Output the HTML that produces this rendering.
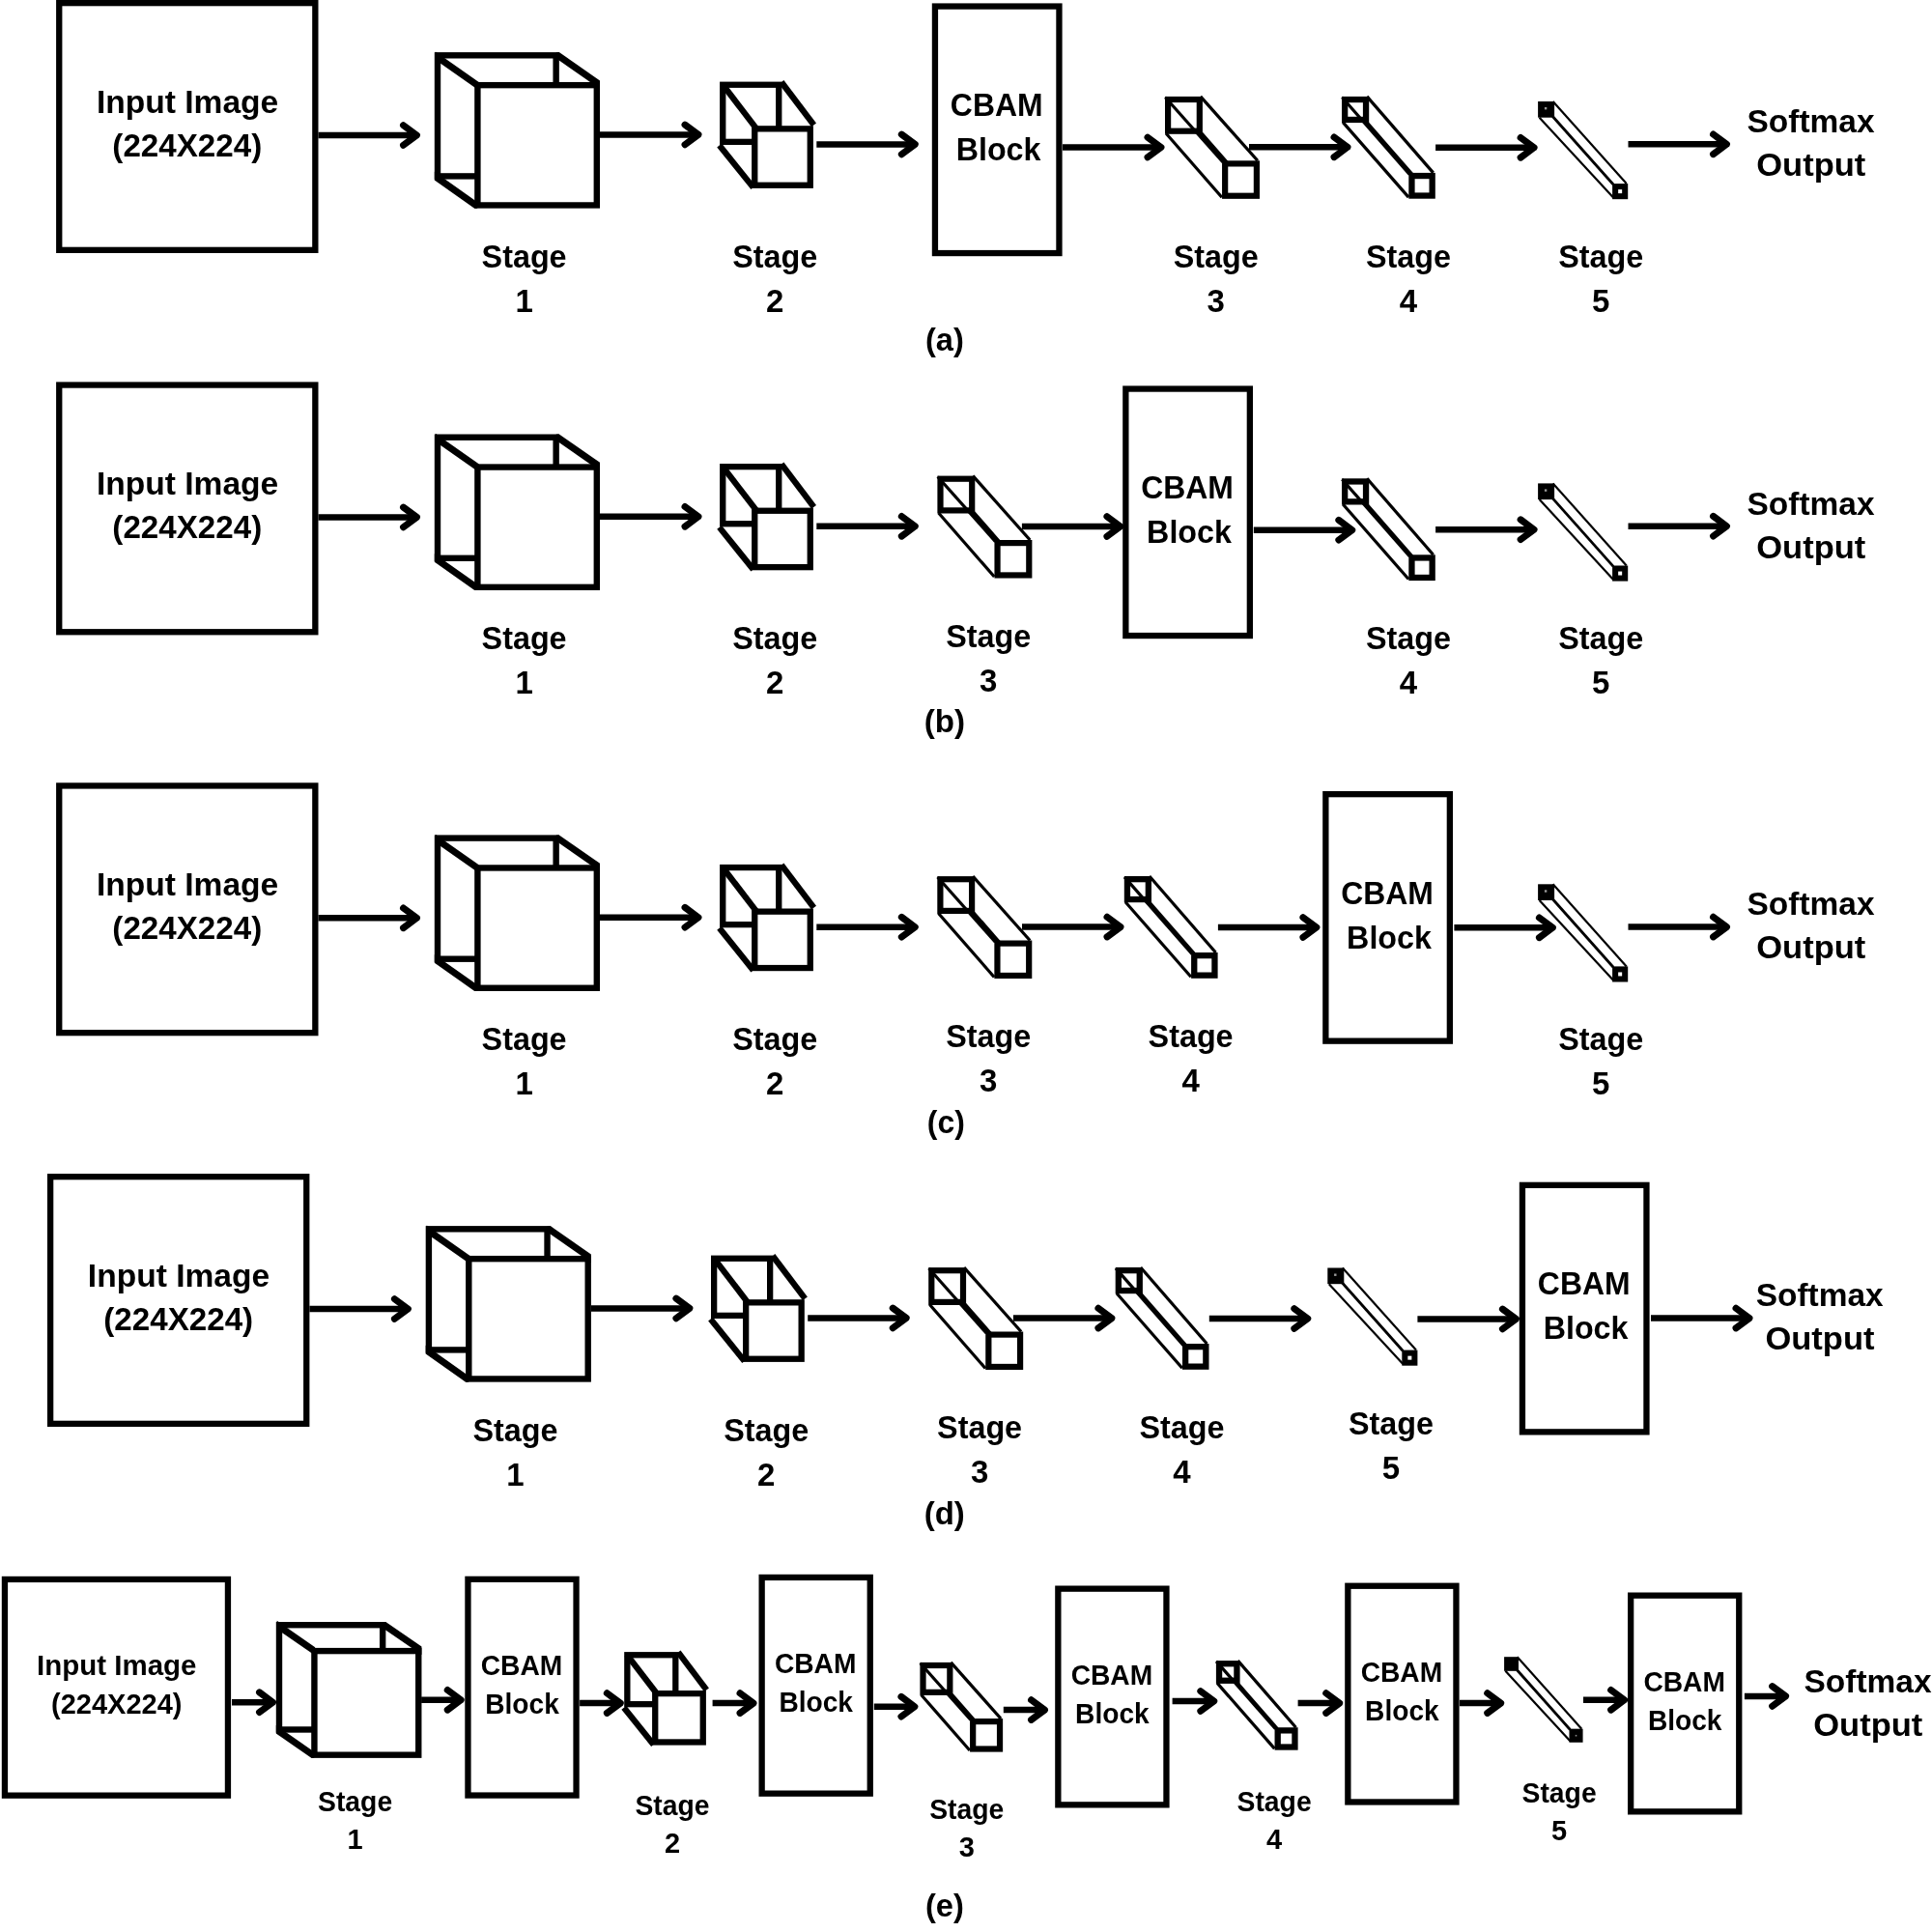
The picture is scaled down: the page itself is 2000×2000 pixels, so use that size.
<!DOCTYPE html>
<html><head><meta charset="utf-8"><title>CBAM placement variants</title>
<style>
html,body{margin:0;padding:0;background:#fff;}
body{width:2000px;height:2000px;overflow:hidden;}
svg{display:block;}
text{font-family:"Liberation Sans",sans-serif;font-weight:bold;fill:#000;}
svg{will-change:transform;}
</style></head><body>
<svg width="2000" height="2000" viewBox="0 0 2000 2000">
<rect x="0" y="0" width="2000" height="2000" fill="#fff"/>
<rect x="61.25" y="3.15" width="265.1" height="255.7" fill="none" stroke="#000" stroke-width="6.3"/>
<text x="99.95" y="116.5" font-size="33" textLength="188.3" lengthAdjust="spacingAndGlyphs">Input Image</text>
<text x="116.35" y="161.8" font-size="33" textLength="154.9" lengthAdjust="spacingAndGlyphs">(224X224)</text>
<path d="M329.5 140 H431.45" fill="none" stroke="#000" stroke-width="6.5"/>
<path d="M417.55 129.7 L431.45 140 L417.55 150.3" fill="none" stroke="#000" stroke-width="7" stroke-linecap="round" stroke-linejoin="round"/>
<rect x="453" y="57.3" width="122.64" height="125.1" fill="none" stroke="#000" stroke-width="6.4"/>
<polygon points="450.8,53.43 495.7,84.88 495.7,93.42 450.8,61.97" fill="#000"/>
<polygon points="575.84,54.1 578.84,54.1 621,83.45 621,91.99 575.84,60.54" fill="#000"/>
<polygon points="449.8,186.4 491.2,215.65 494.2,215.65 494.2,209.21 449.8,177.86" fill="#000"/>
<rect x="494.4" y="88.15" width="123.4" height="124.3" fill="#fff" stroke="#000" stroke-width="6.4"/>
<path d="M621 139.4 H722.95" fill="none" stroke="#000" stroke-width="6.5"/>
<path d="M709.05 129.1 L722.95 139.4 L709.05 149.7" fill="none" stroke="#000" stroke-width="7" stroke-linecap="round" stroke-linejoin="round"/>
<rect x="748.25" y="87.75" width="58" height="59.1" fill="none" stroke="#000" stroke-width="6.3"/>
<line x1="748.2" y1="87.7" x2="783.2" y2="133.3" stroke="#000" stroke-width="6.3" stroke-linecap="butt"/>
<line x1="808.9" y1="85" x2="842.5" y2="129.4" stroke="#000" stroke-width="6.3" stroke-linecap="butt"/>
<line x1="744.7" y1="150.45" x2="779.8" y2="194.15" stroke="#000" stroke-width="6.3" stroke-linecap="butt"/>
<rect x="781.25" y="133.35" width="57.5" height="58.4" fill="#fff" stroke="#000" stroke-width="6.3"/>
<path d="M845.3 149.4 H947.25" fill="none" stroke="#000" stroke-width="6.5"/>
<path d="M933.35 139.1 L947.25 149.4 L933.35 159.7" fill="none" stroke="#000" stroke-width="7" stroke-linecap="round" stroke-linejoin="round"/>
<text x="498.6" y="276.9" font-size="33" textLength="88" lengthAdjust="spacingAndGlyphs">Stage</text>
<text x="542.6" y="322.7" font-size="33" text-anchor="middle">1</text>
<text x="758.3" y="276.9" font-size="33" textLength="88" lengthAdjust="spacingAndGlyphs">Stage</text>
<text x="802.3" y="322.7" font-size="33" text-anchor="middle">2</text>
<rect x="967.95" y="6.55" width="128.5" height="255.5" fill="none" stroke="#000" stroke-width="6.3"/>
<text x="983.85" y="119.9" font-size="33" textLength="95.7" lengthAdjust="spacingAndGlyphs">CBAM</text>
<text x="989.7" y="166.1" font-size="33" textLength="87.8" lengthAdjust="spacingAndGlyphs">Block</text>
<path d="M1100 152.5 H1201.95" fill="none" stroke="#000" stroke-width="6.5"/>
<path d="M1188.05 142.2 L1201.95 152.5 L1188.05 162.8" fill="none" stroke="#000" stroke-width="7" stroke-linecap="round" stroke-linejoin="round"/>
<line x1="1206.3" y1="100.8" x2="1266.05" y2="168" stroke="#000" stroke-width="3.2" stroke-linecap="butt"/>
<line x1="1242.77" y1="99.9" x2="1301.85" y2="166.3" stroke="#000" stroke-width="3.2" stroke-linecap="butt"/>
<line x1="1207.23" y1="138.3" x2="1264.86" y2="204.24" stroke="#000" stroke-width="3.2" stroke-linecap="butt"/>
<line x1="1243.77" y1="137.8" x2="1270.05" y2="167.8" stroke="#000" stroke-width="3.2" stroke-linecap="butt"/>
<line x1="1240.9" y1="136.8" x2="1267.65" y2="167.8" stroke="#000" stroke-width="3.2" stroke-linecap="butt"/>
<rect x="1209.1" y="103" width="32.7" height="32.7" fill="none" stroke="#000" stroke-width="6.2"/>
<rect x="1268.15" y="169.4" width="32.73" height="33.34" fill="#fff" stroke="#000" stroke-width="6.2"/>
<path d="M1293 152.3 H1394.95" fill="none" stroke="#000" stroke-width="6.5"/>
<path d="M1381.05 142 L1394.95 152.3 L1381.05 162.6" fill="none" stroke="#000" stroke-width="7" stroke-linecap="round" stroke-linejoin="round"/>
<line x1="1389.3" y1="100.8" x2="1459.3" y2="180.6" stroke="#000" stroke-width="3.2" stroke-linecap="butt"/>
<line x1="1415.07" y1="99.9" x2="1483.67" y2="178.9" stroke="#000" stroke-width="3.2" stroke-linecap="butt"/>
<line x1="1390.23" y1="126.6" x2="1458.13" y2="204.1" stroke="#000" stroke-width="3.2" stroke-linecap="butt"/>
<line x1="1414.47" y1="126.1" x2="1461.9" y2="180.4" stroke="#000" stroke-width="3.2" stroke-linecap="butt"/>
<rect x="1392.15" y="103.05" width="21.9" height="20.9" fill="none" stroke="#000" stroke-width="6.3"/>
<rect x="1461.45" y="182.05" width="21.2" height="20.5" fill="#fff" stroke="#000" stroke-width="6.3"/>
<path d="M1486.1 152.8 H1588.05" fill="none" stroke="#000" stroke-width="6.5"/>
<path d="M1574.15 142.5 L1588.05 152.8 L1574.15 163.1" fill="none" stroke="#000" stroke-width="7" stroke-linecap="round" stroke-linejoin="round"/>
<line x1="1607.6" y1="105" x2="1683.7" y2="190.1" stroke="#000" stroke-width="2.2" stroke-linecap="butt"/>
<line x1="1593.6" y1="121.7" x2="1670.1" y2="204.5" stroke="#000" stroke-width="2.2" stroke-linecap="butt"/>
<line x1="1607.3" y1="120.5" x2="1670.1" y2="191" stroke="#000" stroke-width="2.8" stroke-linecap="butt"/>
<rect x="1592.1" y="105" width="17" height="16.7" fill="#000"/>
<rect x="1598.9" y="111" width="2.4" height="2.4" fill="#999"/>
<rect x="1669.1" y="190.1" width="16.1" height="16.1" fill="#000"/>
<rect x="1675.15" y="196.15" width="4" height="4" fill="#fff"/>
<path d="M1685.5 149.3 H1787.45" fill="none" stroke="#000" stroke-width="6.5"/>
<path d="M1773.55 139 L1787.45 149.3 L1773.55 159.6" fill="none" stroke="#000" stroke-width="7" stroke-linecap="round" stroke-linejoin="round"/>
<text x="1808.5" y="137.1" font-size="33" textLength="132" lengthAdjust="spacingAndGlyphs">Softmax</text>
<text x="1818.25" y="182.1" font-size="33" textLength="113.1" lengthAdjust="spacingAndGlyphs">Output</text>
<text x="1214.7" y="276.9" font-size="33" textLength="88" lengthAdjust="spacingAndGlyphs">Stage</text>
<text x="1258.7" y="322.7" font-size="33" text-anchor="middle">3</text>
<text x="1414" y="276.9" font-size="33" textLength="88" lengthAdjust="spacingAndGlyphs">Stage</text>
<text x="1458" y="322.7" font-size="33" text-anchor="middle">4</text>
<text x="1613.3" y="276.9" font-size="33" textLength="88" lengthAdjust="spacingAndGlyphs">Stage</text>
<text x="1657.3" y="322.7" font-size="33" text-anchor="middle">5</text>
<text x="957.95" y="363.3" font-size="33" textLength="39.9" lengthAdjust="spacingAndGlyphs">(a)</text>
<rect x="61.25" y="398.55" width="265.1" height="255.7" fill="none" stroke="#000" stroke-width="6.3"/>
<text x="99.95" y="511.9" font-size="33" textLength="188.3" lengthAdjust="spacingAndGlyphs">Input Image</text>
<text x="116.35" y="557.2" font-size="33" textLength="154.9" lengthAdjust="spacingAndGlyphs">(224X224)</text>
<path d="M329.5 535.4 H431.45" fill="none" stroke="#000" stroke-width="6.5"/>
<path d="M417.55 525.1 L431.45 535.4 L417.55 545.7" fill="none" stroke="#000" stroke-width="7" stroke-linecap="round" stroke-linejoin="round"/>
<rect x="453" y="452.7" width="122.64" height="125.1" fill="none" stroke="#000" stroke-width="6.4"/>
<polygon points="450.8,448.83 495.7,480.28 495.7,488.82 450.8,457.37" fill="#000"/>
<polygon points="575.84,449.5 578.84,449.5 621,478.85 621,487.39 575.84,455.94" fill="#000"/>
<polygon points="449.8,581.8 491.2,611.05 494.2,611.05 494.2,604.61 449.8,573.26" fill="#000"/>
<rect x="494.4" y="483.55" width="123.4" height="124.3" fill="#fff" stroke="#000" stroke-width="6.4"/>
<path d="M621 534.8 H722.95" fill="none" stroke="#000" stroke-width="6.5"/>
<path d="M709.05 524.5 L722.95 534.8 L709.05 545.1" fill="none" stroke="#000" stroke-width="7" stroke-linecap="round" stroke-linejoin="round"/>
<rect x="748.25" y="483.15" width="58" height="59.1" fill="none" stroke="#000" stroke-width="6.3"/>
<line x1="748.2" y1="483.1" x2="783.2" y2="528.7" stroke="#000" stroke-width="6.3" stroke-linecap="butt"/>
<line x1="808.9" y1="480.4" x2="842.5" y2="524.8" stroke="#000" stroke-width="6.3" stroke-linecap="butt"/>
<line x1="744.7" y1="545.85" x2="779.8" y2="589.55" stroke="#000" stroke-width="6.3" stroke-linecap="butt"/>
<rect x="781.25" y="528.75" width="57.5" height="58.4" fill="#fff" stroke="#000" stroke-width="6.3"/>
<path d="M845.3 544.8 H947.25" fill="none" stroke="#000" stroke-width="6.5"/>
<path d="M933.35 534.5 L947.25 544.8 L933.35 555.1" fill="none" stroke="#000" stroke-width="7" stroke-linecap="round" stroke-linejoin="round"/>
<text x="498.6" y="672.3" font-size="33" textLength="88" lengthAdjust="spacingAndGlyphs">Stage</text>
<text x="542.6" y="718.1" font-size="33" text-anchor="middle">1</text>
<text x="758.3" y="672.3" font-size="33" textLength="88" lengthAdjust="spacingAndGlyphs">Stage</text>
<text x="802.3" y="718.1" font-size="33" text-anchor="middle">2</text>
<line x1="970.7" y1="493.5" x2="1030.45" y2="560.7" stroke="#000" stroke-width="3.2" stroke-linecap="butt"/>
<line x1="1007.17" y1="492.6" x2="1066.25" y2="559" stroke="#000" stroke-width="3.2" stroke-linecap="butt"/>
<line x1="971.63" y1="531" x2="1029.26" y2="596.94" stroke="#000" stroke-width="3.2" stroke-linecap="butt"/>
<line x1="1008.17" y1="530.5" x2="1034.45" y2="560.5" stroke="#000" stroke-width="3.2" stroke-linecap="butt"/>
<line x1="1005.3" y1="529.5" x2="1032.05" y2="560.5" stroke="#000" stroke-width="3.2" stroke-linecap="butt"/>
<rect x="973.5" y="495.7" width="32.7" height="32.7" fill="none" stroke="#000" stroke-width="6.2"/>
<rect x="1032.55" y="562.1" width="32.73" height="33.34" fill="#fff" stroke="#000" stroke-width="6.2"/>
<path d="M1057.9 545 H1159.85" fill="none" stroke="#000" stroke-width="6.5"/>
<path d="M1145.95 534.7 L1159.85 545 L1145.95 555.3" fill="none" stroke="#000" stroke-width="7" stroke-linecap="round" stroke-linejoin="round"/>
<rect x="1165.35" y="402.55" width="128.5" height="255.5" fill="none" stroke="#000" stroke-width="6.3"/>
<text x="1181.25" y="515.9" font-size="33" textLength="95.7" lengthAdjust="spacingAndGlyphs">CBAM</text>
<text x="1187.1" y="562.1" font-size="33" textLength="87.8" lengthAdjust="spacingAndGlyphs">Block</text>
<path d="M1297.8 548.7 H1399.75" fill="none" stroke="#000" stroke-width="6.5"/>
<path d="M1385.85 538.4 L1399.75 548.7 L1385.85 559" fill="none" stroke="#000" stroke-width="7" stroke-linecap="round" stroke-linejoin="round"/>
<line x1="1389.3" y1="496.2" x2="1459.3" y2="576" stroke="#000" stroke-width="3.2" stroke-linecap="butt"/>
<line x1="1415.07" y1="495.3" x2="1483.67" y2="574.3" stroke="#000" stroke-width="3.2" stroke-linecap="butt"/>
<line x1="1390.23" y1="522" x2="1458.13" y2="599.5" stroke="#000" stroke-width="3.2" stroke-linecap="butt"/>
<line x1="1414.47" y1="521.5" x2="1461.9" y2="575.8" stroke="#000" stroke-width="3.2" stroke-linecap="butt"/>
<rect x="1392.15" y="498.45" width="21.9" height="20.9" fill="none" stroke="#000" stroke-width="6.3"/>
<rect x="1461.45" y="577.45" width="21.2" height="20.5" fill="#fff" stroke="#000" stroke-width="6.3"/>
<path d="M1486.1 548.2 H1588.05" fill="none" stroke="#000" stroke-width="6.5"/>
<path d="M1574.15 537.9 L1588.05 548.2 L1574.15 558.5" fill="none" stroke="#000" stroke-width="7" stroke-linecap="round" stroke-linejoin="round"/>
<line x1="1607.6" y1="500.4" x2="1683.7" y2="585.5" stroke="#000" stroke-width="2.2" stroke-linecap="butt"/>
<line x1="1593.6" y1="517.1" x2="1670.1" y2="599.9" stroke="#000" stroke-width="2.2" stroke-linecap="butt"/>
<line x1="1607.3" y1="515.9" x2="1670.1" y2="586.4" stroke="#000" stroke-width="2.8" stroke-linecap="butt"/>
<rect x="1592.1" y="500.4" width="17" height="16.7" fill="#000"/>
<rect x="1598.9" y="506.4" width="2.4" height="2.4" fill="#999"/>
<rect x="1669.1" y="585.5" width="16.1" height="16.1" fill="#000"/>
<rect x="1675.15" y="591.55" width="4" height="4" fill="#fff"/>
<path d="M1685.5 544.7 H1787.45" fill="none" stroke="#000" stroke-width="6.5"/>
<path d="M1773.55 534.4 L1787.45 544.7 L1773.55 555" fill="none" stroke="#000" stroke-width="7" stroke-linecap="round" stroke-linejoin="round"/>
<text x="1808.5" y="532.5" font-size="33" textLength="132" lengthAdjust="spacingAndGlyphs">Softmax</text>
<text x="1818.25" y="577.5" font-size="33" textLength="113.1" lengthAdjust="spacingAndGlyphs">Output</text>
<text x="979.3" y="669.9" font-size="33" textLength="88" lengthAdjust="spacingAndGlyphs">Stage</text>
<text x="1023.3" y="715.7" font-size="33" text-anchor="middle">3</text>
<text x="1414" y="672.3" font-size="33" textLength="88" lengthAdjust="spacingAndGlyphs">Stage</text>
<text x="1458" y="718.1" font-size="33" text-anchor="middle">4</text>
<text x="1613.3" y="672.3" font-size="33" textLength="88" lengthAdjust="spacingAndGlyphs">Stage</text>
<text x="1657.3" y="718.1" font-size="33" text-anchor="middle">5</text>
<text x="956.7" y="758.3" font-size="33" textLength="42.4" lengthAdjust="spacingAndGlyphs">(b)</text>
<rect x="61.25" y="813.45" width="265.1" height="255.7" fill="none" stroke="#000" stroke-width="6.3"/>
<text x="99.95" y="926.8" font-size="33" textLength="188.3" lengthAdjust="spacingAndGlyphs">Input Image</text>
<text x="116.35" y="972.1" font-size="33" textLength="154.9" lengthAdjust="spacingAndGlyphs">(224X224)</text>
<path d="M329.5 950.3 H431.45" fill="none" stroke="#000" stroke-width="6.5"/>
<path d="M417.55 940 L431.45 950.3 L417.55 960.6" fill="none" stroke="#000" stroke-width="7" stroke-linecap="round" stroke-linejoin="round"/>
<rect x="453" y="867.6" width="122.64" height="125.1" fill="none" stroke="#000" stroke-width="6.4"/>
<polygon points="450.8,863.73 495.7,895.18 495.7,903.72 450.8,872.27" fill="#000"/>
<polygon points="575.84,864.4 578.84,864.4 621,893.75 621,902.29 575.84,870.84" fill="#000"/>
<polygon points="449.8,996.7 491.2,1025.95 494.2,1025.95 494.2,1019.51 449.8,988.16" fill="#000"/>
<rect x="494.4" y="898.45" width="123.4" height="124.3" fill="#fff" stroke="#000" stroke-width="6.4"/>
<path d="M621 949.7 H722.95" fill="none" stroke="#000" stroke-width="6.5"/>
<path d="M709.05 939.4 L722.95 949.7 L709.05 960" fill="none" stroke="#000" stroke-width="7" stroke-linecap="round" stroke-linejoin="round"/>
<rect x="748.25" y="898.05" width="58" height="59.1" fill="none" stroke="#000" stroke-width="6.3"/>
<line x1="748.2" y1="898" x2="783.2" y2="943.6" stroke="#000" stroke-width="6.3" stroke-linecap="butt"/>
<line x1="808.9" y1="895.3" x2="842.5" y2="939.7" stroke="#000" stroke-width="6.3" stroke-linecap="butt"/>
<line x1="744.7" y1="960.75" x2="779.8" y2="1004.45" stroke="#000" stroke-width="6.3" stroke-linecap="butt"/>
<rect x="781.25" y="943.65" width="57.5" height="58.4" fill="#fff" stroke="#000" stroke-width="6.3"/>
<path d="M845.3 959.7 H947.25" fill="none" stroke="#000" stroke-width="6.5"/>
<path d="M933.35 949.4 L947.25 959.7 L933.35 970" fill="none" stroke="#000" stroke-width="7" stroke-linecap="round" stroke-linejoin="round"/>
<text x="498.6" y="1087.2" font-size="33" textLength="88" lengthAdjust="spacingAndGlyphs">Stage</text>
<text x="542.6" y="1133" font-size="33" text-anchor="middle">1</text>
<text x="758.3" y="1087.2" font-size="33" textLength="88" lengthAdjust="spacingAndGlyphs">Stage</text>
<text x="802.3" y="1133" font-size="33" text-anchor="middle">2</text>
<line x1="970.6" y1="908" x2="1030.35" y2="975.2" stroke="#000" stroke-width="3.2" stroke-linecap="butt"/>
<line x1="1007.07" y1="907.1" x2="1066.15" y2="973.5" stroke="#000" stroke-width="3.2" stroke-linecap="butt"/>
<line x1="971.53" y1="945.5" x2="1029.16" y2="1011.44" stroke="#000" stroke-width="3.2" stroke-linecap="butt"/>
<line x1="1008.07" y1="945" x2="1034.35" y2="975" stroke="#000" stroke-width="3.2" stroke-linecap="butt"/>
<line x1="1005.2" y1="944" x2="1031.95" y2="975" stroke="#000" stroke-width="3.2" stroke-linecap="butt"/>
<rect x="973.4" y="910.2" width="32.7" height="32.7" fill="none" stroke="#000" stroke-width="6.2"/>
<rect x="1032.45" y="976.6" width="32.73" height="33.34" fill="#fff" stroke="#000" stroke-width="6.2"/>
<path d="M1058 959.6 H1159.95" fill="none" stroke="#000" stroke-width="6.5"/>
<path d="M1146.05 949.3 L1159.95 959.6 L1146.05 969.9" fill="none" stroke="#000" stroke-width="7" stroke-linecap="round" stroke-linejoin="round"/>
<line x1="1164.1" y1="907.9" x2="1234.1" y2="987.7" stroke="#000" stroke-width="3.2" stroke-linecap="butt"/>
<line x1="1189.87" y1="907" x2="1258.47" y2="986" stroke="#000" stroke-width="3.2" stroke-linecap="butt"/>
<line x1="1165.03" y1="933.7" x2="1232.93" y2="1011.2" stroke="#000" stroke-width="3.2" stroke-linecap="butt"/>
<line x1="1189.27" y1="933.2" x2="1236.7" y2="987.5" stroke="#000" stroke-width="3.2" stroke-linecap="butt"/>
<rect x="1166.95" y="910.15" width="21.9" height="20.9" fill="none" stroke="#000" stroke-width="6.3"/>
<rect x="1236.25" y="989.15" width="21.2" height="20.5" fill="#fff" stroke="#000" stroke-width="6.3"/>
<path d="M1260.9 960 H1362.85" fill="none" stroke="#000" stroke-width="6.5"/>
<path d="M1348.95 949.7 L1362.85 960 L1348.95 970.3" fill="none" stroke="#000" stroke-width="7" stroke-linecap="round" stroke-linejoin="round"/>
<rect x="1372.35" y="822.15" width="128.5" height="255.5" fill="none" stroke="#000" stroke-width="6.3"/>
<text x="1388.25" y="935.5" font-size="33" textLength="95.7" lengthAdjust="spacingAndGlyphs">CBAM</text>
<text x="1394.1" y="981.7" font-size="33" textLength="87.8" lengthAdjust="spacingAndGlyphs">Block</text>
<path d="M1505.4 960.3 H1607.35" fill="none" stroke="#000" stroke-width="6.5"/>
<path d="M1593.45 950 L1607.35 960.3 L1593.45 970.6" fill="none" stroke="#000" stroke-width="7" stroke-linecap="round" stroke-linejoin="round"/>
<line x1="1607.6" y1="915.3" x2="1683.7" y2="1000.4" stroke="#000" stroke-width="2.2" stroke-linecap="butt"/>
<line x1="1593.6" y1="932" x2="1670.1" y2="1014.8" stroke="#000" stroke-width="2.2" stroke-linecap="butt"/>
<line x1="1607.3" y1="930.8" x2="1670.1" y2="1001.3" stroke="#000" stroke-width="2.8" stroke-linecap="butt"/>
<rect x="1592.1" y="915.3" width="17" height="16.7" fill="#000"/>
<rect x="1598.9" y="921.3" width="2.4" height="2.4" fill="#999"/>
<rect x="1669.1" y="1000.4" width="16.1" height="16.1" fill="#000"/>
<rect x="1675.15" y="1006.45" width="4" height="4" fill="#fff"/>
<path d="M1685.5 959.6 H1787.45" fill="none" stroke="#000" stroke-width="6.5"/>
<path d="M1773.55 949.3 L1787.45 959.6 L1773.55 969.9" fill="none" stroke="#000" stroke-width="7" stroke-linecap="round" stroke-linejoin="round"/>
<text x="1808.5" y="947.4" font-size="33" textLength="132" lengthAdjust="spacingAndGlyphs">Softmax</text>
<text x="1818.25" y="992.4" font-size="33" textLength="113.1" lengthAdjust="spacingAndGlyphs">Output</text>
<text x="979.2" y="1084.4" font-size="33" textLength="88" lengthAdjust="spacingAndGlyphs">Stage</text>
<text x="1023.2" y="1130.2" font-size="33" text-anchor="middle">3</text>
<text x="1188.6" y="1084.4" font-size="33" textLength="88" lengthAdjust="spacingAndGlyphs">Stage</text>
<text x="1232.6" y="1130.2" font-size="33" text-anchor="middle">4</text>
<text x="1613.3" y="1087.2" font-size="33" textLength="88" lengthAdjust="spacingAndGlyphs">Stage</text>
<text x="1657.3" y="1133" font-size="33" text-anchor="middle">5</text>
<text x="959.8" y="1173.3" font-size="33" textLength="39" lengthAdjust="spacingAndGlyphs">(c)</text>
<rect x="52.15" y="1218.15" width="265.1" height="255.7" fill="none" stroke="#000" stroke-width="6.3"/>
<text x="90.85" y="1331.5" font-size="33" textLength="188.3" lengthAdjust="spacingAndGlyphs">Input Image</text>
<text x="107.25" y="1376.8" font-size="33" textLength="154.9" lengthAdjust="spacingAndGlyphs">(224X224)</text>
<path d="M320.4 1355 H422.35" fill="none" stroke="#000" stroke-width="6.5"/>
<path d="M408.45 1344.7 L422.35 1355 L408.45 1365.3" fill="none" stroke="#000" stroke-width="7" stroke-linecap="round" stroke-linejoin="round"/>
<rect x="443.9" y="1272.3" width="122.64" height="125.1" fill="none" stroke="#000" stroke-width="6.4"/>
<polygon points="441.7,1268.43 486.6,1299.88 486.6,1308.42 441.7,1276.97" fill="#000"/>
<polygon points="566.74,1269.1 569.74,1269.1 611.9,1298.45 611.9,1306.99 566.74,1275.54" fill="#000"/>
<polygon points="440.7,1401.4 482.1,1430.65 485.1,1430.65 485.1,1424.21 440.7,1392.86" fill="#000"/>
<rect x="485.3" y="1303.15" width="123.4" height="124.3" fill="#fff" stroke="#000" stroke-width="6.4"/>
<path d="M611.9 1354.4 H713.85" fill="none" stroke="#000" stroke-width="6.5"/>
<path d="M699.95 1344.1 L713.85 1354.4 L699.95 1364.7" fill="none" stroke="#000" stroke-width="7" stroke-linecap="round" stroke-linejoin="round"/>
<rect x="739.15" y="1302.75" width="58" height="59.1" fill="none" stroke="#000" stroke-width="6.3"/>
<line x1="739.1" y1="1302.7" x2="774.1" y2="1348.3" stroke="#000" stroke-width="6.3" stroke-linecap="butt"/>
<line x1="799.8" y1="1300" x2="833.4" y2="1344.4" stroke="#000" stroke-width="6.3" stroke-linecap="butt"/>
<line x1="735.6" y1="1365.45" x2="770.7" y2="1409.15" stroke="#000" stroke-width="6.3" stroke-linecap="butt"/>
<rect x="772.15" y="1348.35" width="57.5" height="58.4" fill="#fff" stroke="#000" stroke-width="6.3"/>
<path d="M836.2 1364.4 H938.15" fill="none" stroke="#000" stroke-width="6.5"/>
<path d="M924.25 1354.1 L938.15 1364.4 L924.25 1374.7" fill="none" stroke="#000" stroke-width="7" stroke-linecap="round" stroke-linejoin="round"/>
<text x="489.5" y="1491.9" font-size="33" textLength="88" lengthAdjust="spacingAndGlyphs">Stage</text>
<text x="533.5" y="1537.7" font-size="33" text-anchor="middle">1</text>
<text x="749.2" y="1491.9" font-size="33" textLength="88" lengthAdjust="spacingAndGlyphs">Stage</text>
<text x="793.2" y="1537.7" font-size="33" text-anchor="middle">2</text>
<line x1="961.5" y1="1313" x2="1021.25" y2="1380.2" stroke="#000" stroke-width="3.2" stroke-linecap="butt"/>
<line x1="997.97" y1="1312.1" x2="1057.05" y2="1378.5" stroke="#000" stroke-width="3.2" stroke-linecap="butt"/>
<line x1="962.43" y1="1350.5" x2="1020.06" y2="1416.44" stroke="#000" stroke-width="3.2" stroke-linecap="butt"/>
<line x1="998.97" y1="1350" x2="1025.25" y2="1380" stroke="#000" stroke-width="3.2" stroke-linecap="butt"/>
<line x1="996.1" y1="1349" x2="1022.85" y2="1380" stroke="#000" stroke-width="3.2" stroke-linecap="butt"/>
<rect x="964.3" y="1315.2" width="32.7" height="32.7" fill="none" stroke="#000" stroke-width="6.2"/>
<rect x="1023.35" y="1381.6" width="32.73" height="33.34" fill="#fff" stroke="#000" stroke-width="6.2"/>
<path d="M1048.9 1364.6 H1150.85" fill="none" stroke="#000" stroke-width="6.5"/>
<path d="M1136.95 1354.3 L1150.85 1364.6 L1136.95 1374.9" fill="none" stroke="#000" stroke-width="7" stroke-linecap="round" stroke-linejoin="round"/>
<line x1="1155" y1="1312.9" x2="1225" y2="1392.7" stroke="#000" stroke-width="3.2" stroke-linecap="butt"/>
<line x1="1180.77" y1="1312" x2="1249.37" y2="1391" stroke="#000" stroke-width="3.2" stroke-linecap="butt"/>
<line x1="1155.93" y1="1338.7" x2="1223.83" y2="1416.2" stroke="#000" stroke-width="3.2" stroke-linecap="butt"/>
<line x1="1180.17" y1="1338.2" x2="1227.6" y2="1392.5" stroke="#000" stroke-width="3.2" stroke-linecap="butt"/>
<rect x="1157.85" y="1315.15" width="21.9" height="20.9" fill="none" stroke="#000" stroke-width="6.3"/>
<rect x="1227.15" y="1394.15" width="21.2" height="20.5" fill="#fff" stroke="#000" stroke-width="6.3"/>
<path d="M1251.8 1365 H1353.75" fill="none" stroke="#000" stroke-width="6.5"/>
<path d="M1339.85 1354.7 L1353.75 1365 L1339.85 1375.3" fill="none" stroke="#000" stroke-width="7" stroke-linecap="round" stroke-linejoin="round"/>
<line x1="1389.8" y1="1312.5" x2="1465.9" y2="1397.6" stroke="#000" stroke-width="2.2" stroke-linecap="butt"/>
<line x1="1375.8" y1="1329.2" x2="1452.3" y2="1412" stroke="#000" stroke-width="2.2" stroke-linecap="butt"/>
<line x1="1389.5" y1="1328" x2="1452.3" y2="1398.5" stroke="#000" stroke-width="2.8" stroke-linecap="butt"/>
<rect x="1374.3" y="1312.5" width="17" height="16.7" fill="#000"/>
<rect x="1381.1" y="1318.5" width="2.4" height="2.4" fill="#999"/>
<rect x="1451.3" y="1397.6" width="16.1" height="16.1" fill="#000"/>
<rect x="1457.35" y="1403.65" width="4" height="4" fill="#fff"/>
<path d="M1467.4 1365.4 H1569.35" fill="none" stroke="#000" stroke-width="6.5"/>
<path d="M1555.45 1355.1 L1569.35 1365.4 L1555.45 1375.7" fill="none" stroke="#000" stroke-width="7" stroke-linecap="round" stroke-linejoin="round"/>
<rect x="1575.95" y="1226.85" width="128.5" height="255.5" fill="none" stroke="#000" stroke-width="6.3"/>
<text x="1591.85" y="1340.2" font-size="33" textLength="95.7" lengthAdjust="spacingAndGlyphs">CBAM</text>
<text x="1597.7" y="1386.4" font-size="33" textLength="87.8" lengthAdjust="spacingAndGlyphs">Block</text>
<path d="M1709 1364.6 H1810.95" fill="none" stroke="#000" stroke-width="6.5"/>
<path d="M1797.05 1354.3 L1810.95 1364.6 L1797.05 1374.9" fill="none" stroke="#000" stroke-width="7" stroke-linecap="round" stroke-linejoin="round"/>
<text x="1817.65" y="1352.1" font-size="33" textLength="132" lengthAdjust="spacingAndGlyphs">Softmax</text>
<text x="1827.4" y="1397.1" font-size="33" textLength="113.1" lengthAdjust="spacingAndGlyphs">Output</text>
<text x="970.1" y="1489.4" font-size="33" textLength="88" lengthAdjust="spacingAndGlyphs">Stage</text>
<text x="1014.1" y="1535.2" font-size="33" text-anchor="middle">3</text>
<text x="1179.5" y="1489.4" font-size="33" textLength="88" lengthAdjust="spacingAndGlyphs">Stage</text>
<text x="1223.5" y="1535.2" font-size="33" text-anchor="middle">4</text>
<text x="1395.9" y="1484.7" font-size="33" textLength="88" lengthAdjust="spacingAndGlyphs">Stage</text>
<text x="1439.9" y="1530.5" font-size="33" text-anchor="middle">5</text>
<text x="956.7" y="1578.3" font-size="33" textLength="42.1" lengthAdjust="spacingAndGlyphs">(d)</text>
<rect x="4.95" y="1634.95" width="231" height="223.7" fill="none" stroke="#000" stroke-width="6.3"/>
<text x="38.07" y="1734.1" font-size="29" textLength="165.36" lengthAdjust="spacingAndGlyphs">Input Image</text>
<text x="53.01" y="1773.7" font-size="29" textLength="135.48" lengthAdjust="spacingAndGlyphs">(224X224)</text>
<path d="M240 1762.2 H282.45" fill="none" stroke="#000" stroke-width="6.5"/>
<path d="M268.55 1751.9 L282.45 1762.2 L268.55 1772.5" fill="none" stroke="#000" stroke-width="7" stroke-linecap="round" stroke-linejoin="round"/>
<rect x="289" y="1682.2" width="107.16" height="108.27" fill="none" stroke="#000" stroke-width="6.4"/>
<polygon points="286.68,1677.87 326.19,1705.3 326.19,1713.83 286.68,1686.41" fill="#000"/>
<polygon points="396.36,1679 399.36,1679 436.46,1704.41 436.46,1712.94 396.36,1685.44" fill="#000"/>
<polygon points="285.8,1794.47 322.23,1819.87 325.23,1819.87 325.23,1813.44 285.8,1785.93" fill="#000"/>
<rect x="325.43" y="1709.1" width="107.82" height="107.57" fill="#fff" stroke="#000" stroke-width="6.4"/>
<path d="M436.1 1759.8 H477.15" fill="none" stroke="#000" stroke-width="6.5"/>
<path d="M463.25 1749.5 L477.15 1759.8 L463.25 1770.1" fill="none" stroke="#000" stroke-width="7" stroke-linecap="round" stroke-linejoin="round"/>
<rect x="484.45" y="1634.85" width="112.1" height="223.7" fill="none" stroke="#000" stroke-width="6.3"/>
<text x="497.75" y="1733.9" font-size="29" textLength="84.5" lengthAdjust="spacingAndGlyphs">CBAM</text>
<text x="502.2" y="1773.9" font-size="29" textLength="76.59" lengthAdjust="spacingAndGlyphs">Block</text>
<path d="M600.1 1763.1 H642.25" fill="none" stroke="#000" stroke-width="6.5"/>
<path d="M628.35 1752.8 L642.25 1763.1 L628.35 1773.4" fill="none" stroke="#000" stroke-width="7" stroke-linecap="round" stroke-linejoin="round"/>
<rect x="649.35" y="1713.25" width="49.96" height="50.92" fill="none" stroke="#000" stroke-width="6.3"/>
<line x1="648.91" y1="1712.81" x2="679.54" y2="1752.71" stroke="#000" stroke-width="6.3" stroke-linecap="butt"/>
<line x1="702.03" y1="1710.45" x2="731.43" y2="1749.3" stroke="#000" stroke-width="6.3" stroke-linecap="butt"/>
<line x1="645.85" y1="1767.72" x2="676.56" y2="1805.96" stroke="#000" stroke-width="6.3" stroke-linecap="butt"/>
<rect x="678.23" y="1753.15" width="49.53" height="50.31" fill="#fff" stroke="#000" stroke-width="6.3"/>
<path d="M737.6 1763.1 H779.95" fill="none" stroke="#000" stroke-width="6.5"/>
<path d="M766.05 1752.8 L779.95 1763.1 L766.05 1773.4" fill="none" stroke="#000" stroke-width="7" stroke-linecap="round" stroke-linejoin="round"/>
<rect x="788.65" y="1632.95" width="112.1" height="223.7" fill="none" stroke="#000" stroke-width="6.3"/>
<text x="801.95" y="1732" font-size="29" textLength="84.5" lengthAdjust="spacingAndGlyphs">CBAM</text>
<text x="806.4" y="1772" font-size="29" textLength="76.59" lengthAdjust="spacingAndGlyphs">Block</text>
<path d="M904.8 1766.7 H946.85" fill="none" stroke="#000" stroke-width="6.5"/>
<path d="M932.95 1756.4 L946.85 1766.7 L932.95 1777" fill="none" stroke="#000" stroke-width="7" stroke-linecap="round" stroke-linejoin="round"/>
<line x1="952.66" y1="1721.69" x2="1004.94" y2="1780.49" stroke="#000" stroke-width="3.2" stroke-linecap="butt"/>
<line x1="984.3" y1="1720.9" x2="1036" y2="1779" stroke="#000" stroke-width="3.2" stroke-linecap="butt"/>
<line x1="953.63" y1="1754.44" x2="1003.88" y2="1812" stroke="#000" stroke-width="3.2" stroke-linecap="butt"/>
<line x1="985.3" y1="1754.06" x2="1008.25" y2="1780.31" stroke="#000" stroke-width="3.2" stroke-linecap="butt"/>
<line x1="982.94" y1="1753.19" x2="1006.34" y2="1780.31" stroke="#000" stroke-width="3.2" stroke-linecap="butt"/>
<rect x="955.5" y="1724" width="27.84" height="27.84" fill="none" stroke="#000" stroke-width="6.2"/>
<rect x="1007.17" y="1782.1" width="27.86" height="28.4" fill="#fff" stroke="#000" stroke-width="6.2"/>
<path d="M1038.8 1770.1 H1081.45" fill="none" stroke="#000" stroke-width="6.5"/>
<path d="M1067.55 1759.8 L1081.45 1770.1 L1067.55 1780.4" fill="none" stroke="#000" stroke-width="7" stroke-linecap="round" stroke-linejoin="round"/>
<rect x="1095.35" y="1644.65" width="112.1" height="223.7" fill="none" stroke="#000" stroke-width="6.3"/>
<text x="1108.65" y="1743.7" font-size="29" textLength="84.5" lengthAdjust="spacingAndGlyphs">CBAM</text>
<text x="1113.1" y="1783.7" font-size="29" textLength="76.59" lengthAdjust="spacingAndGlyphs">Block</text>
<path d="M1213.6 1761 H1256.75" fill="none" stroke="#000" stroke-width="6.5"/>
<path d="M1242.85 1750.7 L1256.75 1761 L1242.85 1771.3" fill="none" stroke="#000" stroke-width="7" stroke-linecap="round" stroke-linejoin="round"/>
<line x1="1259.16" y1="1719.89" x2="1320.41" y2="1789.71" stroke="#000" stroke-width="3.2" stroke-linecap="butt"/>
<line x1="1281.44" y1="1719.1" x2="1341.47" y2="1788.22" stroke="#000" stroke-width="3.2" stroke-linecap="butt"/>
<line x1="1260.13" y1="1742.4" x2="1319.37" y2="1810.08" stroke="#000" stroke-width="3.2" stroke-linecap="butt"/>
<line x1="1280.84" y1="1742.02" x2="1322.32" y2="1789.54" stroke="#000" stroke-width="3.2" stroke-linecap="butt"/>
<rect x="1262.05" y="1722.25" width="18.37" height="17.5" fill="none" stroke="#000" stroke-width="6.3"/>
<rect x="1322.69" y="1791.38" width="17.76" height="17.15" fill="#fff" stroke="#000" stroke-width="6.3"/>
<path d="M1343.6 1763.1 H1386.65" fill="none" stroke="#000" stroke-width="6.5"/>
<path d="M1372.75 1752.8 L1386.65 1763.1 L1372.75 1773.4" fill="none" stroke="#000" stroke-width="7" stroke-linecap="round" stroke-linejoin="round"/>
<rect x="1395.35" y="1641.75" width="112.1" height="223.7" fill="none" stroke="#000" stroke-width="6.3"/>
<text x="1408.65" y="1740.8" font-size="29" textLength="84.5" lengthAdjust="spacingAndGlyphs">CBAM</text>
<text x="1413.1" y="1780.8" font-size="29" textLength="76.59" lengthAdjust="spacingAndGlyphs">Block</text>
<path d="M1511 1763.1 H1553.65" fill="none" stroke="#000" stroke-width="6.5"/>
<path d="M1539.75 1752.8 L1553.65 1763.1 L1539.75 1773.4" fill="none" stroke="#000" stroke-width="7" stroke-linecap="round" stroke-linejoin="round"/>
<line x1="1570.66" y1="1715.2" x2="1637.25" y2="1789.66" stroke="#000" stroke-width="2.2" stroke-linecap="butt"/>
<line x1="1558.41" y1="1729.81" x2="1625.35" y2="1802.26" stroke="#000" stroke-width="2.2" stroke-linecap="butt"/>
<line x1="1570.4" y1="1728.76" x2="1625.35" y2="1790.45" stroke="#000" stroke-width="2.8" stroke-linecap="butt"/>
<rect x="1557.1" y="1715.2" width="14.88" height="14.61" fill="#000"/>
<rect x="1624.47" y="1789.66" width="14.09" height="14.09" fill="#000"/>
<rect x="1630.72" y="1795.91" width="1.6" height="1.6" fill="#888"/>
<path d="M1639 1759.8 H1681.55" fill="none" stroke="#000" stroke-width="6.5"/>
<path d="M1667.65 1749.5 L1681.55 1759.8 L1667.65 1770.1" fill="none" stroke="#000" stroke-width="7" stroke-linecap="round" stroke-linejoin="round"/>
<rect x="1688.15" y="1651.65" width="112.1" height="223.7" fill="none" stroke="#000" stroke-width="6.3"/>
<text x="1701.45" y="1750.7" font-size="29" textLength="84.5" lengthAdjust="spacingAndGlyphs">CBAM</text>
<text x="1705.9" y="1790.7" font-size="29" textLength="76.59" lengthAdjust="spacingAndGlyphs">Block</text>
<path d="M1805.9 1755.9 H1848.55" fill="none" stroke="#000" stroke-width="6.5"/>
<path d="M1834.65 1745.6 L1848.55 1755.9 L1834.65 1766.2" fill="none" stroke="#000" stroke-width="7" stroke-linecap="round" stroke-linejoin="round"/>
<text x="1867.5" y="1752.1" font-size="33" textLength="132" lengthAdjust="spacingAndGlyphs">Softmax</text>
<text x="1877.25" y="1797.1" font-size="33" textLength="113.1" lengthAdjust="spacingAndGlyphs">Output</text>
<text x="329.04" y="1875.3" font-size="29" textLength="77.13" lengthAdjust="spacingAndGlyphs">Stage</text>
<text x="367.6" y="1913.7" font-size="29" text-anchor="middle">1</text>
<text x="657.44" y="1879.2" font-size="29" textLength="77.13" lengthAdjust="spacingAndGlyphs">Stage</text>
<text x="696" y="1917.6" font-size="29" text-anchor="middle">2</text>
<text x="962.24" y="1883.1" font-size="29" textLength="77.13" lengthAdjust="spacingAndGlyphs">Stage</text>
<text x="1000.8" y="1921.5" font-size="29" text-anchor="middle">3</text>
<text x="1280.54" y="1875.3" font-size="29" textLength="77.13" lengthAdjust="spacingAndGlyphs">Stage</text>
<text x="1319.1" y="1913.7" font-size="29" text-anchor="middle">4</text>
<text x="1575.54" y="1866.3" font-size="29" textLength="77.13" lengthAdjust="spacingAndGlyphs">Stage</text>
<text x="1614.1" y="1904.7" font-size="29" text-anchor="middle">5</text>
<text x="957.95" y="1983.5" font-size="33" textLength="39.9" lengthAdjust="spacingAndGlyphs">(e)</text>
</svg>
</body></html>
